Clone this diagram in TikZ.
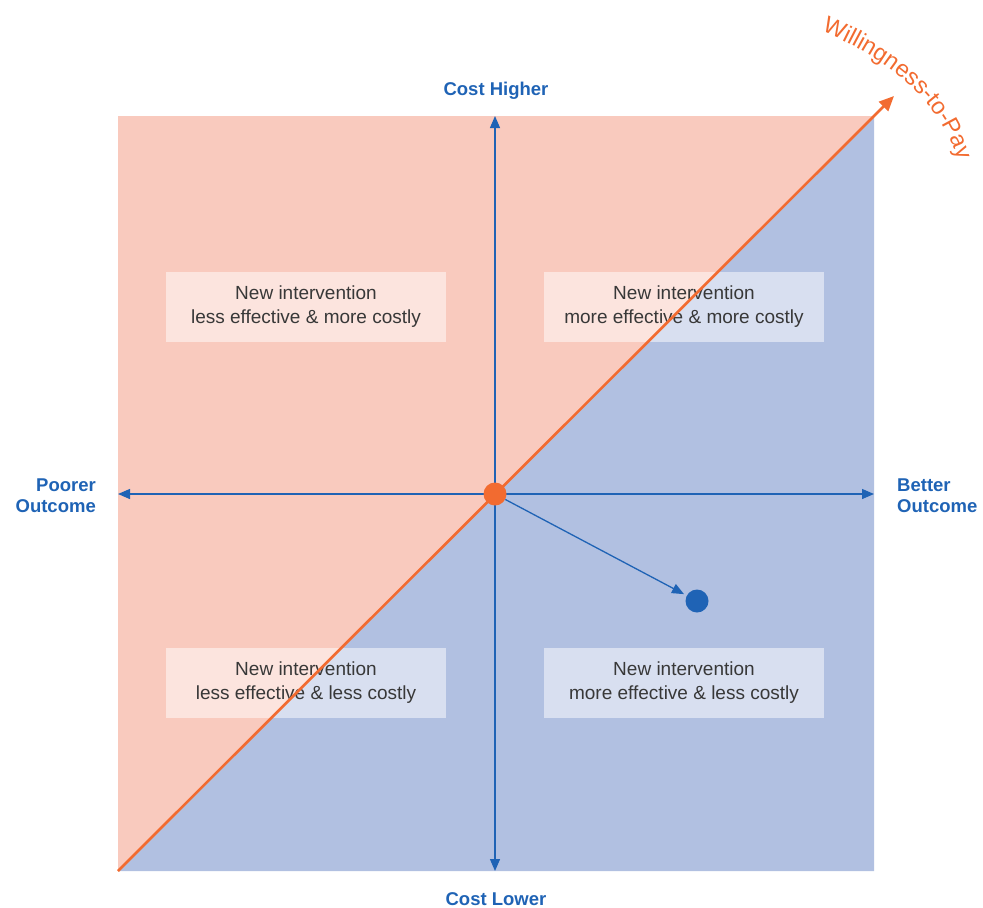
\documentclass[tikz,border=0pt]{standalone}
\usepackage{fontspec}
\setmainfont{Liberation Sans}
\usetikzlibrary{arrows.meta,decorations.text}
\definecolor{pinkq}{HTML}{F9CABE}
\definecolor{blueq}{HTML}{B1C0E1}
\definecolor{orng}{HTML}{F26B30}
\definecolor{bluet}{HTML}{1F63B5}
\definecolor{txt}{HTML}{383838}
\tikzset{
  axis/.style={draw=bluet, line width=1.3pt, -{Triangle[length=12pt,width=10pt]}},
  qbox/.style={fill=white, fill opacity=0.5, text opacity=1, minimum width=280pt, minimum height=70pt, align=center, text=txt, font=\fontsize{19}{24}\selectfont, inner sep=0pt},
  axlab/.style={text=bluet, font=\fontsize{18.5}{21}\selectfont\bfseries, inner sep=0pt},
  dot/.style={circle, inner sep=0pt, minimum size=#1}
}
\begin{document}
\begin{tikzpicture}[x=1pt,y=-1pt]
\useasboundingbox (0,0) rectangle (983,908);
\fill[pinkq] (118,116) rectangle (874,871);
\fill[blueq] (118,871) -- (874,116) -- (874,871) -- cycle;
\coordinate (c) at (495,494);
\coordinate (t) at (495,116);
\coordinate (b) at (495,871);
\coordinate (l) at (118,494);
\coordinate (r) at (874,494);
\coordinate (o) at (118,871);
\coordinate (w) at (894,96);
\node[qbox] (q1) at (306,307) {New intervention\\less effective \& more costly};
\node[qbox] (q2) at (684,307) {New intervention\\more effective \& more costly};
\node[qbox] (q3) at (306,683) {New intervention\\less effective \& less costly};
\node[qbox] (q4) at (684,683) {New intervention\\more effective \& less costly};
\draw[axis] (c) -- (t);
\draw[axis] (c) -- (b);
\draw[axis] (c) -- (l);
\draw[axis] (c) -- (r);
\draw[orng, line width=2.6pt, -{Triangle[length=15pt,width=13pt]}] (o) -- (w);
\node[dot=23pt, fill=orng] (od) at (c) {};
\node[dot=23pt, fill=bluet] (bd) at (697,601) {};
\draw[axis, shorten >=3pt] (od) -- (bd);
\node[axlab, anchor=base] (ch) at (496,95) {Cost Higher};
\node[axlab, anchor=base] (cl) at (496,905) {Cost Lower};
\node[axlab, align=right, anchor=east, font=\fontsize{18.5}{21}\selectfont\bfseries] (po) at (96,496) {Poorer\\Outcome};
\node[axlab, align=left, anchor=west, font=\fontsize{18.5}{21}\selectfont\bfseries] (bo) at (897,496) {Better\\Outcome};
\path[decorate, decoration={text along path, text align=center,
  text={|\fontsize{23.5}{24}\selectfont\color{orng}|Willingness-to-Pay}}]
  (824,32) .. controls (888,60) and (938,98) .. (957,158);
\end{tikzpicture}
\end{document}
